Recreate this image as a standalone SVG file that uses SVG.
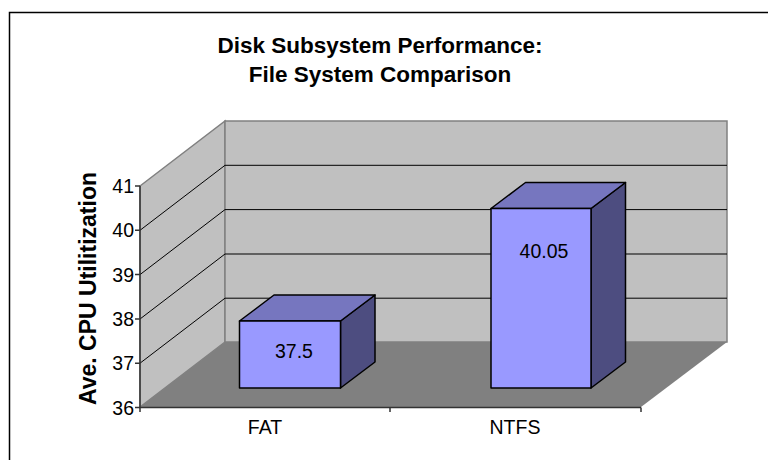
<svg xmlns="http://www.w3.org/2000/svg" width="768" height="460" viewBox="0 0 768 460">
<style>
text{font-family:"Liberation Sans",Arial,sans-serif;fill:#000}
.title{font-size:22.5px;font-weight:bold;text-anchor:middle}
.tick{font-size:19.5px;text-anchor:end}
.cat{font-size:19.5px;text-anchor:middle}
.val{font-size:19.5px;text-anchor:middle}
.grid{stroke:#000;stroke-width:1;fill:none}
.wall{fill:#c0c0c0;stroke:#808080;stroke-width:1.5}
.axis{stroke:#333;stroke-width:1.5;fill:none}
.front{fill:#9999ff;stroke:#000;stroke-width:1.5;stroke-linejoin:round}
.top{fill:#7676bf;stroke:#000;stroke-width:1.5;stroke-linejoin:round}
.side{fill:#4d4d80;stroke:#000;stroke-width:1.5;stroke-linejoin:round}
</style>
<rect x="0" y="0" width="768" height="460" fill="#fff"/>
<rect x="9.5" y="12.5" width="770" height="460" fill="#fff" stroke="#000" stroke-width="1.5"/>
<g id="title">
<text class="title" x="380" y="53">Disk Subsystem Performance:</text>
<text class="title" x="380" y="82">File System Comparison</text>
</g>
<g id="walls">
<polygon class="wall" points="140,186 225,121 225,342 140,407"/>
<rect class="wall" x="225" y="121" width="502" height="221"/>
<polygon points="140,407 225,342 727,342 641,407" fill="#808080"/>
</g>
<g id="gridlines">
<path class="grid" d="M225,165.3H727M225,209.6H727M225,254H727M225,298.2H727"/>
<path class="grid" d="M140,230.3L225,165.3M140,274.6L225,209.6M140,319L225,254M140,363.2L225,298.2"/>
</g>
<g id="axes">
<path class="axis" d="M140,186V407.5H641"/>
<path class="axis" d="M135,186H140M135,230.3H140M135,274.6H140M135,319H140M135,363.2H140M135,407.5H140"/>
<path class="axis" d="M140,407.5V412M390,407.5V412M641,407.5V412"/>
<text class="tick" x="134" y="193">41</text>
<text class="tick" x="134" y="237">40</text>
<text class="tick" x="134" y="281.5">39</text>
<text class="tick" x="134" y="326">38</text>
<text class="tick" x="134" y="370">37</text>
<text class="tick" x="134" y="414.5">36</text>
<text x="96" y="288.5" transform="rotate(-90 96 288.5)" style="font-size:23px;font-weight:bold;text-anchor:middle">Ave. CPU Utilitization</text>
</g>
<g id="bar-fat">
<polygon class="side" points="340.5,321 375,295 375,362 340.5,388"/>
<polygon class="top" points="239.5,321 274,295 375,295 340.5,321"/>
<rect class="front" x="239.5" y="321" width="101" height="67"/>
<text class="val" x="294" y="358">37.5</text>
</g>
<g id="bar-ntfs">
<polygon class="side" points="591,208.5 625.5,182.5 625.5,362 591,388"/>
<polygon class="top" points="491,208.5 525.5,182.5 625.5,182.5 591,208.5"/>
<rect class="front" x="491" y="208.5" width="100" height="179.5"/>
<text class="val" x="544" y="258">40.05</text>
</g>
<g id="categories">
<text class="cat" x="265" y="434">FAT</text>
<text class="cat" x="515" y="434">NTFS</text>
</g>
</svg>
